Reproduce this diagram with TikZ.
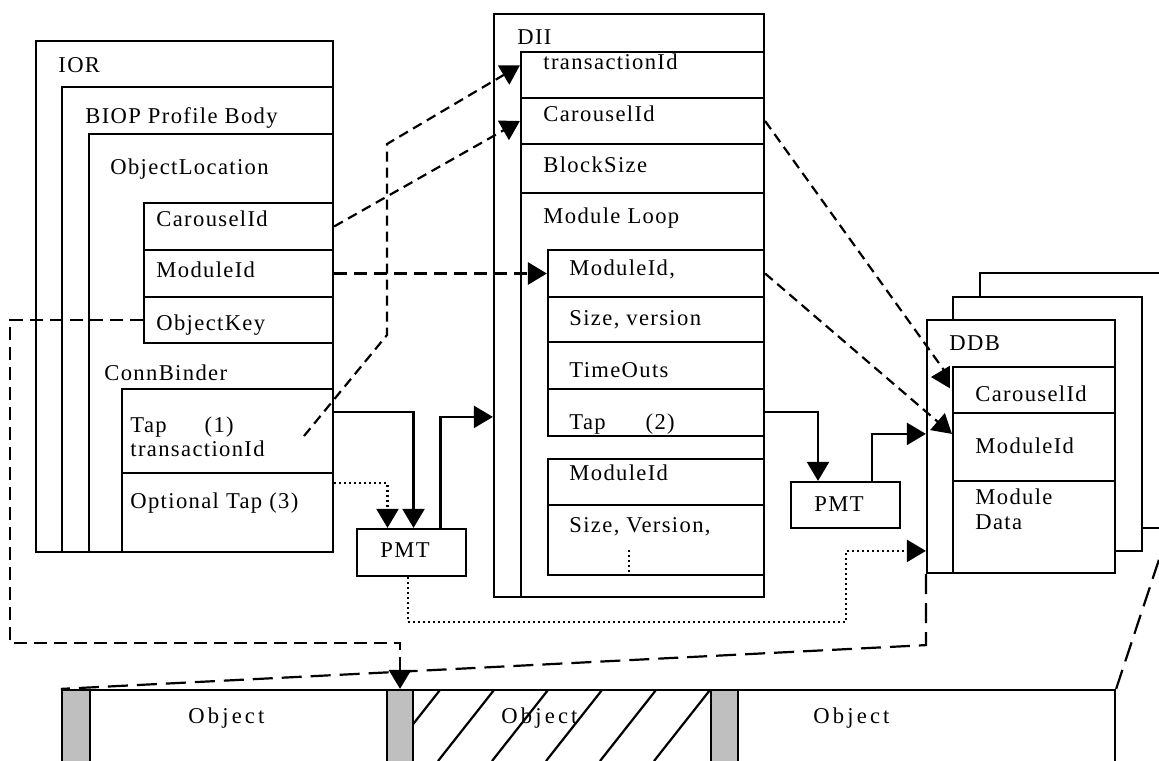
\documentclass[tikz,border=0pt]{standalone}
\usepackage{fontspec}
\setmainfont{Liberation Serif}[LetterSpace=6]
\newfontfamily\objfont{Liberation Serif}[LetterSpace=14]
\usetikzlibrary{arrows.meta,fit,calc}

\begin{document}
\begin{tikzpicture}[x=0.5pt,y=-0.5pt,
  boxline/.style={line width=1.1pt},
  cell/.style={draw,line width=1.1pt,inner sep=0pt,fit={#1}},
  lbl/.style={anchor=base west,inner sep=0pt,font=\fontsize{11.3}{13}\selectfont},
  objlbl/.style={anchor=base west,inner sep=0pt,font=\fontsize{11.3}{13}\selectfont\objfont},
  linkdash/.style={line width=1.1pt,dash pattern=on 5pt off 3pt},
  keydash/.style={line width=1.4pt,dash pattern=on 6.5pt off 3.5pt},
  longdash/.style={line width=1.1pt,dash pattern=on 10pt off 4.5pt},
  dotlink/.style={line width=1.1pt,dash pattern=on 1pt off 1.5pt},
  arr/.style={-{Triangle[length=9.5pt,width=11pt]}}]
\useasboundingbox (0,0) rectangle (1159,760);
\clip (0,0) rectangle (1159,760);

% IOR
\node[cell={(36,41) (333,552)}] (ior) {};
\node[cell={(62,87) (333,552)}] (biop) {};
\node[cell={(89,134) (333,552)}] (objloc) {};
\node[cell={(144,203) (333,250)}] (iorcar) {};
\node[cell={(144,250) (333,297)}] (iormod) {};
\node[cell={(144,297) (333,343)}] (iorkey) {};
\node[cell={(122,389) (333,473)}] (iortap) {};
\node[cell={(122,473) (333,552)}] (ioropt) {};
\node[lbl] (t-ior) at (58,72) {IOR};
\node[lbl] (t-biop) at (85,123) {BIOP Profile Body};
\node[lbl] (t-objloc) at (110,174) {ObjectLocation};
\node[lbl] (t-iorcar) at (156,226) {CarouselId};
\node[lbl] (t-iormod) at (156,277) {ModuleId};
\node[lbl] (t-iorkey) at (156,330) {ObjectKey};
\node[lbl] (t-conn) at (104,380) {ConnBinder};
\node[lbl] (t-iortap) at (130,432) {Tap\hspace{19pt}(1)};
\node[lbl] (t-iortxn) at (130,456) {transactionId};
\node[lbl] (t-ioropt) at (130,508) {Optional Tap (3)};

% DII
\node[cell={(494,14) (764,597)}] (dii) {};
\node[cell={(521,52) (764,597)}] (diibody) {};
\node[cell={(521,52) (764,98)}] (diitxn) {};
\node[cell={(521,98) (764,144)}] (diicar) {};
\node[cell={(521,144) (764,193)}] (diiblk) {};
\node[cell={(548,250) (764,297)}] (diimod) {};
\node[cell={(548,297) (764,342)}] (diisize) {};
\node[cell={(548,342) (764,389)}] (diitime) {};
\node[cell={(548,389) (764,436)}] (diitap) {};
\node[cell={(548,459) (764,505)}] (diimodb) {};
\node[cell={(548,505) (764,575)}] (diisizeb) {};
\draw[dotlink] (629,550) -- (629,572);
\node[lbl] (t-dii) at (517,44) {DII};
\node[lbl] (t-diitxn) at (543,69) {transactionId};
\node[lbl] (t-diicar) at (543,121) {CarouselId};
\node[lbl] (t-diiblk) at (543,172) {BlockSize};
\node[lbl] (t-loop) at (543,223) {Module Loop};
\node[lbl] (t-diimod) at (569,275) {ModuleId,};
\node[lbl] (t-diisize) at (569,325) {Size, version};
\node[lbl] (t-diitime) at (569,377) {TimeOuts};
\node[lbl] (t-diitap) at (569,429) {Tap\hspace{20pt}(2)};
\node[lbl] (t-diimodb) at (569,480) {ModuleId};
\node[lbl] (t-diisizeb) at (569,532) {Size, Version,};

% PMT
\node[cell={(357,529) (466,576)}] (pmta) {};
\node[cell={(791,482) (900,528)}] (pmtb) {};
\node[lbl] (t-pmta) at (380,557) {PMT};
\node[lbl] (t-pmtb) at (814,511) {PMT};

% DDB stack
\node[cell={(980,273) (1168,528)},fill=white] (ddbc) {};
\node[cell={(953,297) (1142,551)},fill=white] (ddbb) {};
\node[cell={(927,320) (1115,573)},fill=white] (ddb) {};
\node[cell={(953,367) (1115,413)}] (ddbcar) {};
\node[cell={(953,413) (1115,481)}] (ddbmod) {};
\node[cell={(953,481) (1115,573)}] (ddbdata) {};
\node[lbl] (t-ddb) at (949,350) {DDB};
\node[lbl] (t-ddbcar) at (975,401) {CarouselId};
\node[lbl] (t-ddbmod) at (975,453) {ModuleId};
\node[lbl] (t-ddbdata) at (975,504) {Module};
\node[lbl] (t-ddbdatb) at (975,529) {Data};

% object stream
\node[cell={(62,690) (1115,762)}] (stream) {};
\node[cell={(62,690) (90,762)},fill=gray!50] (gapa) {};
\node[cell={(387,690) (413,762)},fill=gray!50] (gapb) {};
\node[cell={(711,690) (738,762)},fill=gray!50] (gapc) {};
\begin{scope}
  \clip (gapb.north east) rectangle (gapc.south west);
  \foreach \x in {440,494,548,602,656,710}
    \draw[boxline] (\x-56,761) -- (\x,690);
\end{scope}
\node[objlbl] (t-obja) at (188,723) {Object};
\node[objlbl] (t-objb) at (501,723) {Object};
\node[objlbl] (t-objc) at (813,723) {Object};

% links
\coordinate (txfoot) at (304,436);
\draw[linkdash,arr] (iorcar.east) -- (diicar.west);
\draw[linkdash,arr] (txfoot) -- (387,335) -- (387,144) -- ($(diitxn.north west)!0.3!(diitxn.south west)$);
\draw[keydash,arr] (iormod.east) -- (diimod.west);
\draw[keydash,arr] (iorkey.west) -| (10,643) -| (gapb.north);
\draw[linkdash,arr] (diicar.east) -- ($(ddbcar.west)+(-3,-13)$) -- ($(ddbcar.west)+(-21,-13)$);
\draw[linkdash,arr] (diimod.east) -- ($(ddbmod.north west)+(0,22)$);
\draw[boxline,arr] ($(iortap.north east)+(0,24)$) -| ($(pmta.north)+(2,0)$);
\draw[dotlink,arr] ($(ioropt.north east)+(0,11)$) -| ($(pmta.north)+(-24,0)$);
\draw[boxline,arr] ($(pmta.north)+(29,0)$) |- ($(dii.north west)+(0,404)$);
\draw[boxline,arr] ($(diitap.east)+(0,-0.5)$) -| ($(pmtb.north)+(-27.5,0)$);
\draw[boxline,arr] ($(pmtb.north)+(26.5,0)$) |- ($(ddb.north west)+(0,115)$);
\draw[dotlink,arr] ($(pmta.south)+(-3.5,0)$) |- (846,622) |- ($(ddb.north west)+(0,232)$);
\draw[longdash] (ddb.south west) -- ++(0,71) -- (stream.north west);
\draw[longdash] (stream.north east) -- (ddbc.south east);
\end{tikzpicture}
\end{document}
